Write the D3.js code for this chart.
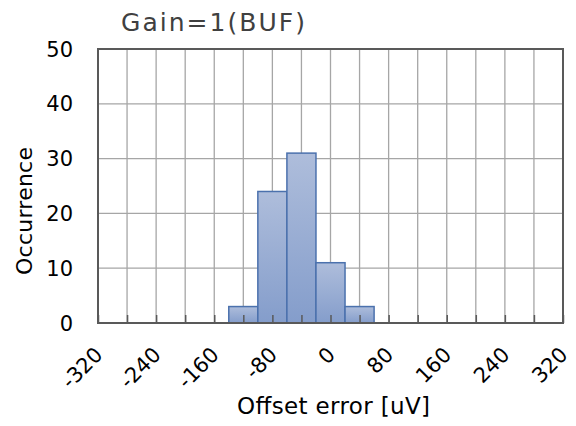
<!DOCTYPE html>
<html>
<head>
<meta charset="utf-8">
<script src="https://cdn.jsdelivr.net/npm/d3@7"></script>
<style>
  body { margin: 0; background: #fff; }
  text { font-family: "DejaVu Sans", Verdana, sans-serif; }
</style>
</head>
<body>
<div id="chart"></div>
<script>
// histogram data: bin edges and counts
const binEdges = [-140, -100, -60, -20, 20, 60];
const counts = [3, 24, 31, 11, 3];
const xTickValues = [-320, -280, -240, -200, -160, -120, -80, -40, 0, 40, 80, 120, 160, 200, 240, 280, 320];
const xLabelValues = [-320, -240, -160, -80, 0, 80, 160, 240, 320];
const yTickValues = [0, 10, 20, 30, 40, 50];

var width = 576, height = 426;
var plot = {left: 98, right: 563, top: 49, bottom: 323};

var svg = d3.select("#chart")
    .append("svg")
    .attr("width", width)
    .attr("height", height);

var x = d3.scaleLinear().domain([-320, 320]).range([plot.left, plot.right]);
var y = d3.scaleLinear().domain([0, 50]).range([plot.bottom, plot.top]);

// bar gradient
var grad = svg.append("defs").append("linearGradient")
    .attr("id", "barFill")
    .attr("x1", 0).attr("y1", 0).attr("x2", 0).attr("y2", 1);
grad.append("stop").attr("offset", "0%").attr("stop-color", "#aebddb");
grad.append("stop").attr("offset", "100%").attr("stop-color", "#849dcb");

// gridlines
svg.append("g")
    .selectAll("line.vgrid")
    .data(xTickValues)
    .enter()
    .append("line")
    .attr("x1", d => x(d)).attr("x2", d => x(d))
    .attr("y1", plot.top).attr("y2", plot.bottom)
    .attr("stroke", "#a6a6a6")
    .attr("stroke-width", 1.3);

svg.append("g")
    .selectAll("line.hgrid")
    .data(yTickValues)
    .enter()
    .append("line")
    .attr("x1", plot.left).attr("x2", plot.right)
    .attr("y1", d => y(d)).attr("y2", d => y(d))
    .attr("stroke", "#a6a6a6")
    .attr("stroke-width", 1.3);

// bars
svg.append("g")
    .selectAll("rect")
    .data(counts)
    .enter()
    .append("rect")
    .attr("x", (d, i) => x(binEdges[i]))
    .attr("width", (d, i) => x(binEdges[i + 1]) - x(binEdges[i]))
    .attr("y", d => y(d))
    .attr("height", d => y(0) - y(d))
    .attr("fill", "url(#barFill)")
    .attr("stroke", "#4b71ad")
    .attr("stroke-width", 1.5);

// x axis (ticks point inward), drawn over the bars
var xAxis = d3.axisBottom(x)
    .tickValues(xTickValues)
    .tickSizeInner(-8)
    .tickSizeOuter(0)
    .tickFormat("");
var gx = svg.append("g")
    .attr("transform", "translate(0," + plot.bottom + ")")
    .call(xAxis);
gx.select(".domain").remove();
gx.selectAll(".tick line").attr("stroke", "#595959").attr("stroke-width", 1.5);

// frame
svg.append("rect")
    .attr("x", plot.left).attr("y", plot.top)
    .attr("width", plot.right - plot.left)
    .attr("height", plot.bottom - plot.top)
    .attr("fill", "none")
    .attr("stroke", "#595959")
    .attr("stroke-width", 2);

// x tick labels, rotated
svg.append("g")
    .selectAll("text")
    .data(xLabelValues)
    .enter()
    .append("text")
    .attr("transform", d => "translate(" + (x(d) + 6) + "," + (plot.bottom + 33) + ") rotate(-45)")
    .attr("text-anchor", "end")
    .style("font-size", "21px")
    .attr("fill", "#000")
    .text(d => d);

// y tick labels
svg.append("g")
    .selectAll("text")
    .data(yTickValues)
    .enter()
    .append("text")
    .attr("x", 73)
    .attr("y", d => y(d))
    .attr("dy", "0.36em")
    .attr("text-anchor", "end")
    .style("font-size", "21px")
    .attr("fill", "#000")
    .text(d => d);

// title
svg.append("text")
    .attr("x", 121)
    .attr("y", 31)
    .attr("textLength", 184)
    .attr("lengthAdjust", "spacing")
    .style("font-size", "25px")
    .attr("fill", "#404040")
    .text("Gain=1(BUF)");

// axis titles
svg.append("text")
    .attr("x", 237)
    .attr("y", 414)
    .attr("textLength", 193)
    .attr("lengthAdjust", "spacing")
    .style("font-size", "23px")
    .attr("fill", "#000")
    .text("Offset error [uV]");

svg.append("text")
    .attr("transform", "translate(32,211) rotate(-90)")
    .attr("text-anchor", "middle")
    .attr("textLength", 128)
    .attr("lengthAdjust", "spacing")
    .style("font-size", "22px")
    .attr("fill", "#000")
    .text("Occurrence");
</script>
</body>
</html>
